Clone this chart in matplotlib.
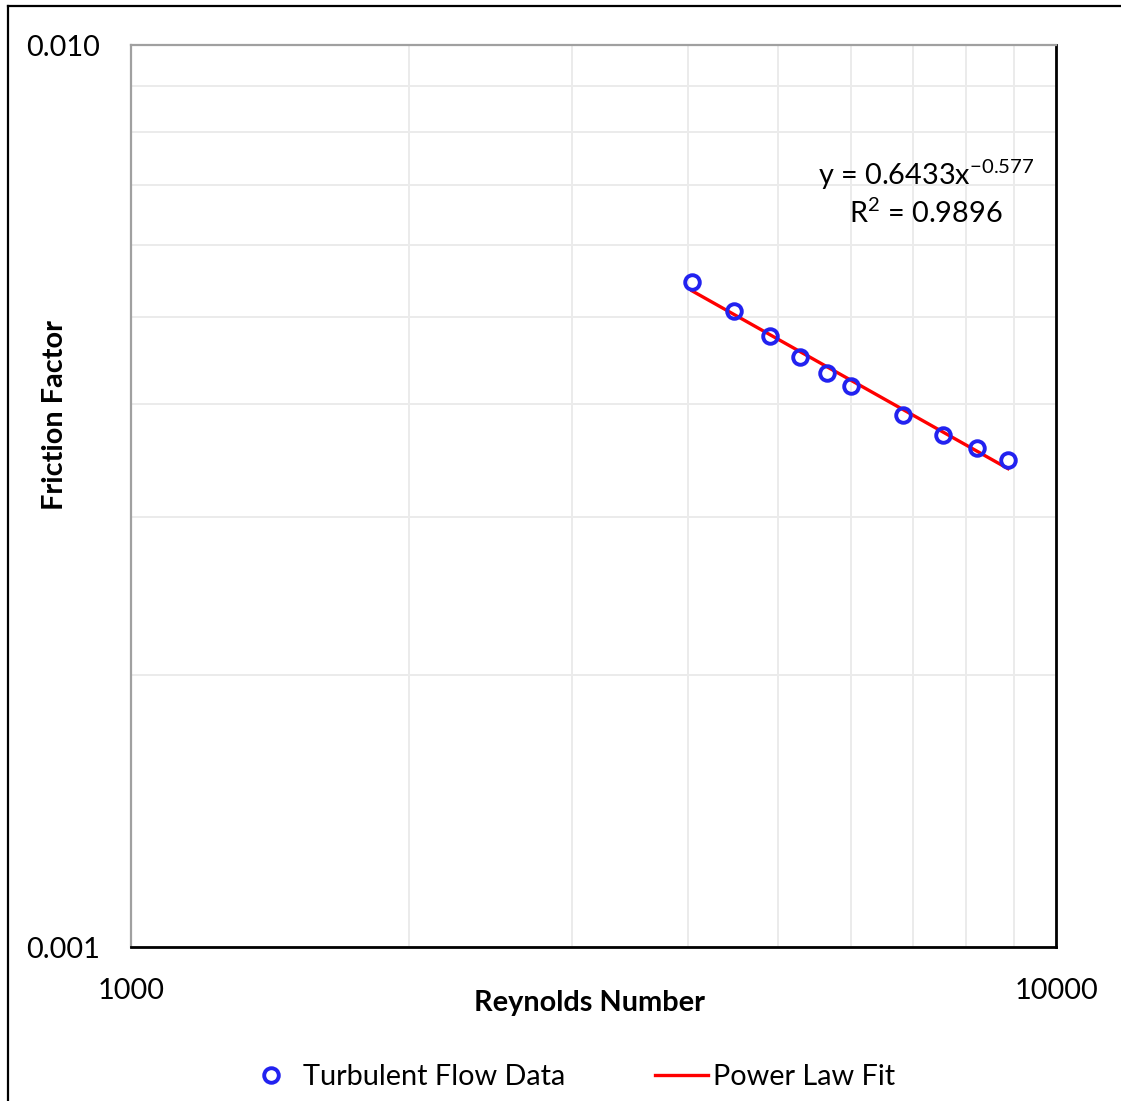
import matplotlib
matplotlib.use("Agg")
import matplotlib.pyplot as plt
import numpy as np
from matplotlib.lines import Line2D
from matplotlib.ticker import FixedLocator, LogLocator, FormatStrFormatter, NullFormatter

plt.rcParams['font.family'] = ['Lato', 'DejaVu Sans']

# measured data
reynolds = [4042, 4486, 4907, 5288, 5656, 6002, 6833, 7547, 8216, 8874]
friction = [0.005461, 0.005072, 0.004758, 0.004510, 0.004329,
            0.004188, 0.003888, 0.003695, 0.003575, 0.003467]

# power law fit coefficients
fit_a = 0.6433
fit_b = -0.577
fit_r2 = 0.9896

x_ticks = [1000, 10000]
y_ticks = [0.001, 0.010]

FS = 20.8
W, H = 1121, 1101
fig = plt.figure(figsize=(W / 100, H / 100), dpi=100)
ax = fig.add_axes([131 / W, 1 - 947 / H, (1056 - 131) / W, (947 - 45) / H])

ax.set_xscale('log')
ax.set_yscale('log')
ax.set_xlim(x_ticks[0], x_ticks[-1])
ax.set_ylim(y_ticks[0], y_ticks[-1])

ax.xaxis.set_major_locator(FixedLocator(x_ticks))
ax.yaxis.set_major_locator(FixedLocator(y_ticks))
ax.xaxis.set_minor_locator(LogLocator(base=10, subs=np.arange(2, 10)))
ax.yaxis.set_minor_locator(LogLocator(base=10, subs=np.arange(2, 10)))
ax.xaxis.set_major_formatter(FormatStrFormatter('%d'))
ax.yaxis.set_major_formatter(FormatStrFormatter('%.3f'))
ax.xaxis.set_minor_formatter(NullFormatter())
ax.yaxis.set_minor_formatter(NullFormatter())
ax.tick_params(which='both', length=0)
ax.tick_params(axis='x', pad=22, labelsize=FS)
ax.tick_params(axis='y', pad=22, labelsize=FS)

ax.grid(True, which='both', color='#ebebeb', linewidth=1.4)
ax.set_axisbelow(True)

for side in ['left', 'top']:
    ax.spines[side].set_color('#a0a0a0')
    ax.spines[side].set_linewidth(1.6)
for side in ['bottom', 'right']:
    ax.spines[side].set_color('black')
    ax.spines[side].set_linewidth(2.0)

xfit = np.linspace(min(reynolds), max(reynolds), 100)
yfit = fit_a * xfit ** fit_b
ax.plot(xfit, yfit, color='#ff0000', linewidth=2.4, zorder=3)
ax.plot(reynolds, friction, linestyle='none', marker='o', markersize=10.5,
        markerfacecolor='none', markeredgecolor='#2222f0', markeredgewidth=2.8,
        zorder=4)

ax.text(926 / W, 1 - 175 / H,
        'y = %.4fx$^{\\mathregular{%.3f}}$' % (fit_a, fit_b),
        transform=fig.transFigure, ha='center', va='center', fontsize=FS)
ax.text(926 / W, 1 - 213 / H, 'R$^{\\mathregular{2}}$ = %.4f' % fit_r2,
        transform=fig.transFigure, ha='center', va='center', fontsize=FS)

fig.text(590 / W, 1 - 1003 / H, 'Reynolds Number', ha='center', va='center',
         fontsize=FS, fontweight='bold')
fig.text(55 / W, 1 - 415 / H, 'Friction Factor', ha='center', va='center',
         rotation=90, fontsize=FS, fontweight='bold')

handles = [
    Line2D([], [], linestyle='none', marker='o', markersize=10.5,
           markerfacecolor='none', markeredgecolor='#2222f0', markeredgewidth=2.8),
    Line2D([], [], color='#ff0000', linewidth=2.4),
]
fig.legend(handles, ['Turbulent Flow Data', 'Power Law Fit'], loc='center',
           bbox_to_anchor=(570 / W, 1 - 1077 / H), ncol=2, frameon=False,
           fontsize=FS, handlelength=1.85, handletextpad=0.18,
           columnspacing=3.1, borderpad=0, borderaxespad=0)

# outer chart border
fig.add_artist(Line2D([8 / W, 8 / W], [0, 1 - 6 / H], color='black',
                      linewidth=1.6, transform=fig.transFigure))
fig.add_artist(Line2D([8 / W, 1], [1 - 6 / H, 1 - 6 / H], color='black',
                      linewidth=1.6, transform=fig.transFigure))

fig.savefig('out.png', dpi=100)
